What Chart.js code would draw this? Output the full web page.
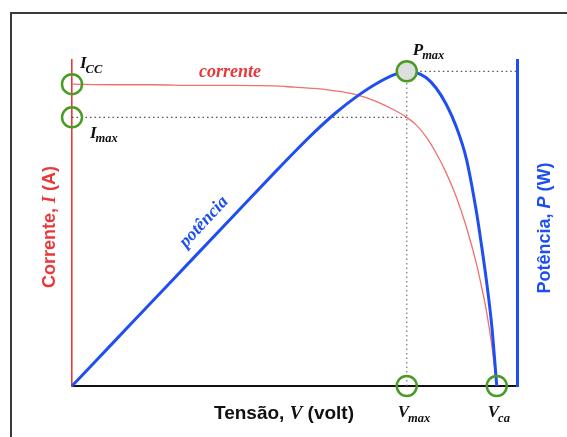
<!DOCTYPE html>
<html>
<head>
<meta charset="utf-8">
<script src="https://cdn.jsdelivr.net/npm/chart.js@4.4.0/dist/chart.umd.min.js"></script>
<style>
  html, body { margin: 0; padding: 0; background: #fff; }
  #wrap { width: 567px; height: 437px; }
</style>
</head>
<body>
<div id="wrap"><canvas id="chart" width="567" height="437"></canvas></div>
<script>
// curva I-V e P-V de um painel
const tensao = [0, 2, 4, 6, 8, 10, 11, 12, 13, 14, 15, 16, 16.55, 17, 17.5, 18, 18.5, 19, 19.5, 20, 20.25, 20.5, 20.75, 21];
const corrente = [5.00, 4.99, 4.99, 4.98, 4.98, 4.97, 4.95, 4.93, 4.89, 4.83, 4.72, 4.56, 4.45, 4.33, 4.13, 3.86, 3.53, 3.13, 2.63, 2.02, 1.64, 1.22, 0.68, 0];
const potencia = [0, 10.2, 20.4, 30.6, 40.8, 51.0, 56.0, 60.8, 65.2, 69.0, 72.2, 74.6, 75.3, 75.0, 73.8, 71.3, 67.4, 62.0, 54.3, 41.5, 33.5, 24.8, 14.5, 0];

// pontos notaveis
const Icc = 5.0;
const Imax = 4.45;
const Vmax = 16.55;
const Pmax = 75.3;
const Vca = 21;

// limites dos eixos
const tensaoMax = 22;
const correnteMax = 5.4;
const potenciaMax = 78;

const VERMELHO = '#e8383a';
const AZUL = '#1f4ff0';
const VERDE = '#4b9a25';
const SERIF = '"Liberation Serif", "DejaVu Serif", serif';
const SANS = '"Liberation Sans", Arial, sans-serif';

function mixedText(ctx, parts, cx, cy, angle, color) {
    ctx.save();
    ctx.translate(cx, cy);
    ctx.rotate(angle);
    ctx.fillStyle = color;
    ctx.textBaseline = 'alphabetic';
    ctx.textAlign = 'left';
    let total = 0;
    for (const p of parts) {
        ctx.font = p.font;
        total += ctx.measureText(p.text).width;
    }
    let x = -total / 2;
    for (const p of parts) {
        ctx.font = p.font;
        ctx.fillText(p.text, x, 0);
        x += ctx.measureText(p.text).width;
    }
    ctx.restore();
}

function subLabel(ctx, main, sub, x, y, dy) {
    ctx.save();
    ctx.fillStyle = '#111';
    ctx.textBaseline = 'alphabetic';
    ctx.textAlign = 'left';
    ctx.font = 'italic bold 17px ' + SERIF;
    ctx.fillText(main, x, y);
    const w = ctx.measureText(main).width;
    ctx.font = 'italic bold 12.5px ' + SERIF;
    ctx.fillText(sub, x + w - 1, y + dy);
    ctx.restore();
}

const rotulos = {
    id: 'rotulos',
    beforeDraw(chart) {
        const ctx = chart.ctx;
        ctx.save();
        ctx.strokeStyle = '#3a3a3a';
        ctx.lineWidth = 2;
        ctx.strokeRect(11, 13, 700, 600);
        ctx.restore();
    },
    afterDraw(chart) {
        const { ctx, scales: { x, y, y1 } } = chart;
        const x0 = x.getPixelForValue(0);
        const xVm = x.getPixelForValue(Vmax);
        const xVca = x.getPixelForValue(Vca);
        const yIcc = y.getPixelForValue(Icc);
        const yImax = y.getPixelForValue(Imax);
        const yPmax = y1.getPixelForValue(Pmax);
        const yBase = y.getPixelForValue(0);

        subLabel(ctx, 'I', 'CC', x0 + 8, yIcc - 16, 5);
        subLabel(ctx, 'I', 'max', x0 + 18, yImax + 21, 4);
        subLabel(ctx, 'P', 'max', xVm + 6, yPmax - 16, 4);
        subLabel(ctx, 'V', 'max', xVm - 9, yBase + 31, 5);
        subLabel(ctx, 'V', 'ca', xVca - 9, yBase + 31, 5);

        ctx.save();
        ctx.font = 'italic bold 18px ' + SERIF;
        ctx.fillStyle = VERMELHO;
        ctx.textBaseline = 'alphabetic';
        ctx.fillText('corrente', 199, 77);
        ctx.restore();

        ctx.save();
        ctx.translate(204, 222);
        ctx.rotate(-47 * Math.PI / 180);
        ctx.font = 'italic bold 18px ' + SERIF;
        ctx.fillStyle = AZUL;
        ctx.textAlign = 'center';
        ctx.textBaseline = 'middle';
        ctx.fillText('potência', 0, 0);
        ctx.restore();

        const b = 'bold 18px ' + SANS;
        const bi = 'italic bold 18px ' + SERIF;
        mixedText(ctx, [{ text: 'Corrente, ', font: b }, { text: 'I', font: bi }, { text: ' (A)', font: b }],
            55, 227, -Math.PI / 2, VERMELHO);
        mixedText(ctx, [{ text: 'Potência, ', font: b }, { text: 'P', font: 'italic bold 18px ' + SANS }, { text: ' (W)', font: b }],
            550, 228, -Math.PI / 2, AZUL);
        const b2 = 'bold 19px ' + SANS;
        mixedText(ctx, [{ text: 'Tensão, ', font: b2 }, { text: 'V', font: 'italic bold 19px ' + SERIF }, { text: ' (volt)', font: b2 }],
            284, 419, 0, '#111');
    }
};

const curvaI = tensao.map((v, i) => ({ x: v, y: corrente[i] }));
const curvaP = tensao.map((v, i) => ({ x: v, y: potencia[i] }));

const ctx = document.querySelector('#chart').getContext('2d');
const chart = new Chart(ctx, {
    type: 'line',
    data: {
        datasets: [
            {
                label: 'Pmax',
                data: [{ x: Vmax, y: Pmax }],
                yAxisID: 'y1',
                showLine: false,
                pointRadius: 10,
                pointBorderWidth: 2.5,
                pointBorderColor: VERDE,
                pointBackgroundColor: '#dddfde',
                clip: false,
                order: 0
            },
            {
                label: 'pontos I',
                data: [{ x: 0, y: Icc }, { x: 0, y: Imax }, { x: Vmax, y: 0 }, { x: Vca, y: 0 }],
                yAxisID: 'y',
                showLine: false,
                pointRadius: 10,
                pointBorderWidth: 2.5,
                pointBorderColor: VERDE,
                pointBackgroundColor: 'rgba(0,0,0,0)',
                clip: false,
                order: 1
            },
            {
                label: 'potência',
                data: curvaP,
                yAxisID: 'y1',
                borderColor: AZUL,
                borderWidth: 3,
                pointRadius: 0,
                cubicInterpolationMode: 'monotone',
                clip: false,
                order: 2
            },
            {
                label: 'corrente',
                data: curvaI,
                yAxisID: 'y',
                borderColor: '#f07070',
                borderWidth: 1.3,
                pointRadius: 0,
                cubicInterpolationMode: 'monotone',
                clip: false,
                order: 3
            },
            {
                label: 'Imax',
                data: [{ x: 0, y: Imax }, { x: Vmax, y: Imax }],
                yAxisID: 'y',
                borderColor: '#555',
                borderWidth: 1.2,
                borderDash: [1.5, 3],
                pointRadius: 0,
                order: 4
            },
            {
                label: 'Vmax',
                data: [{ x: Vmax, y: 0 }, { x: Vmax, y: Pmax }],
                yAxisID: 'y1',
                borderColor: '#777',
                borderWidth: 1.2,
                borderDash: [1.5, 3],
                pointRadius: 0,
                order: 5
            },
            {
                label: 'Pmax linha',
                data: [{ x: Vmax, y: Pmax }, { x: tensaoMax, y: Pmax }],
                yAxisID: 'y1',
                borderColor: '#555',
                borderWidth: 1.2,
                borderDash: [1.5, 3],
                pointRadius: 0,
                order: 6
            }
        ]
    },
    options: {
        responsive: false,
        animation: false,
        events: [],
        layout: { padding: { left: 72, right: 50, top: 60, bottom: 51 } },
        plugins: {
            legend: { display: false },
            tooltip: { enabled: false }
        },
        scales: {
            x: {
                type: 'linear',
                min: 0,
                max: tensaoMax,
                ticks: { display: false },
                grid: { display: false, drawTicks: false },
                border: { display: true, color: '#111', width: 2 }
            },
            y: {
                position: 'left',
                min: 0,
                max: correnteMax,
                ticks: { display: false },
                grid: { display: false, drawTicks: false },
                border: { display: true, color: VERMELHO, width: 1.6 }
            },
            y1: {
                position: 'right',
                min: 0,
                max: potenciaMax,
                ticks: { display: false },
                grid: { display: false, drawTicks: false },
                border: { display: true, color: AZUL, width: 3 }
            }
        }
    },
    plugins: [rotulos]
});
</script>
</body>
</html>
